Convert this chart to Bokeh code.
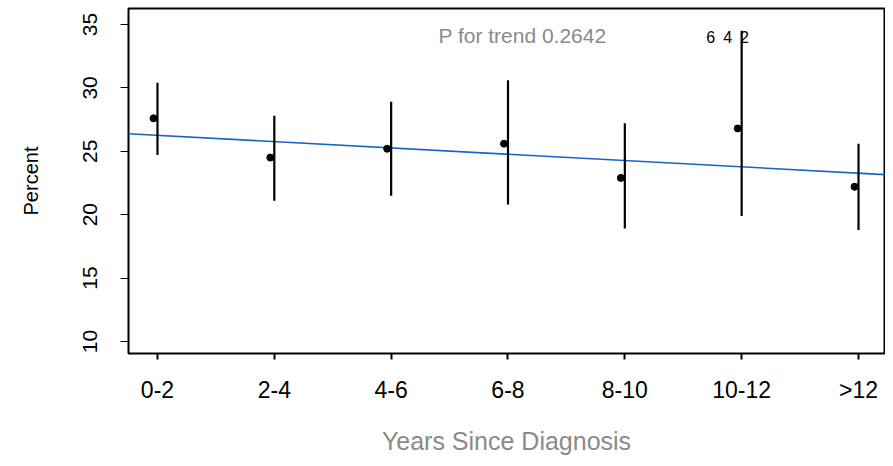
from bokeh.plotting import figure
from bokeh.models import Range1d, FixedTicker, ColumnDataSource
from bokeh.transform import dodge
from bokeh.core.properties import value
from bokeh.embed import file_html
from bokeh.resources import INLINE

# ---- data ----
categories = ["0-2", "2-4", "4-6", "6-8", "8-10", "10-12", ">12"]
positions = [1, 2, 3, 4, 5, 6, 7]
percent = [27.6, 24.5, 25.2, 25.6, 22.9, 26.8, 22.2]
lower = [24.7, 21.1, 21.5, 20.8, 18.9, 19.9, 18.8]
upper = [30.4, 27.8, 28.9, 30.6, 27.2, 34.5, 25.6]
trend_x = [0.75, 7.25]
trend_y = [26.38, 23.15]
y_ticks = [10, 15, 20, 25, 30, 35]
trend_note = "P for trend 0.2642"
count_note = "6\u20024\u20022"

FONT = "Liberation Sans"

src = ColumnDataSource(dict(x=positions, y=percent, lo=lower, hi=upper))

p = figure(width=885, height=458, output_backend="svg", toolbar_location=None,
           x_range=Range1d(0.752, 7.2225), y_range=Range1d(9.05, 36.26),
           min_border_left=128, min_border_right=1, min_border_top=8,
           min_border_bottom=105)

p.background_fill_color = "white"
p.border_fill_color = "white"
p.outline_line_color = "black"
p.outline_line_width = 2
p.xgrid.visible = False
p.ygrid.visible = False

# x axis
p.xaxis.ticker = FixedTicker(ticks=positions)
p.xaxis.major_label_overrides = {pos: lab for pos, lab in zip(positions, categories)}
p.xaxis.major_label_text_font = FONT
p.xaxis.major_label_text_font_size = "23px"
p.xaxis.major_label_text_color = "black"
p.xaxis.major_tick_out = 6
p.xaxis.major_tick_in = 0
p.xaxis.major_tick_line_width = 2
p.xaxis.minor_tick_line_color = None
p.xaxis.axis_line_color = None
p.xaxis.major_label_standoff = 17
p.xaxis.axis_label = "Years Since Diagnosis"
p.xaxis.axis_label_text_font = FONT
p.xaxis.axis_label_text_font_size = "25px"
p.xaxis.axis_label_text_font_style = "normal"
p.xaxis.axis_label_text_color = "#8a8a8a"
p.xaxis.axis_label_standoff = 21

# y axis
p.yaxis.ticker = FixedTicker(ticks=y_ticks)
p.yaxis.major_label_orientation = "parallel"
p.yaxis.major_label_text_font = FONT
p.yaxis.major_label_text_font_size = "21px"
p.yaxis.major_label_text_color = "black"
p.yaxis.major_tick_out = 8
p.yaxis.major_tick_in = 0
p.yaxis.major_tick_line_width = 1
p.yaxis.minor_tick_line_color = None
p.yaxis.axis_line_color = None
p.yaxis.major_label_standoff = 23
p.yaxis.axis_label = "Percent"
p.yaxis.axis_label_text_font = FONT
p.yaxis.axis_label_text_font_size = "20px"
p.yaxis.axis_label_text_font_style = "normal"
p.yaxis.axis_label_text_color = "black"
p.yaxis.axis_label_standoff = 39

# trend line
p.line(trend_x, trend_y, line_color="#1565c8", line_width=1.6)

# error bars
p.segment(x0="x", y0="lo", x1="x", y1="hi", source=src,
          line_color="black", line_width=2.2)

# point estimates (drawn slightly left of the bars as in the reference)
p.scatter(x=dodge("x", -0.034, range=p.x_range), y="y", source=src,
          size=7, fill_color="black", line_color="black")

# annotations
p.text(x=[4.124], y=[34.13], text=[trend_note], text_font=value(FONT),
       text_font_size="21px", text_color="#8a8a8a",
       text_align="center", text_baseline="middle")
p.text(x=[5.88], y=[33.94], text=[count_note], text_font=value(FONT),
       text_font_size="16px", text_color="black",
       text_align="center", text_baseline="middle")

open("out.html", "w").write(file_html(p, INLINE))
